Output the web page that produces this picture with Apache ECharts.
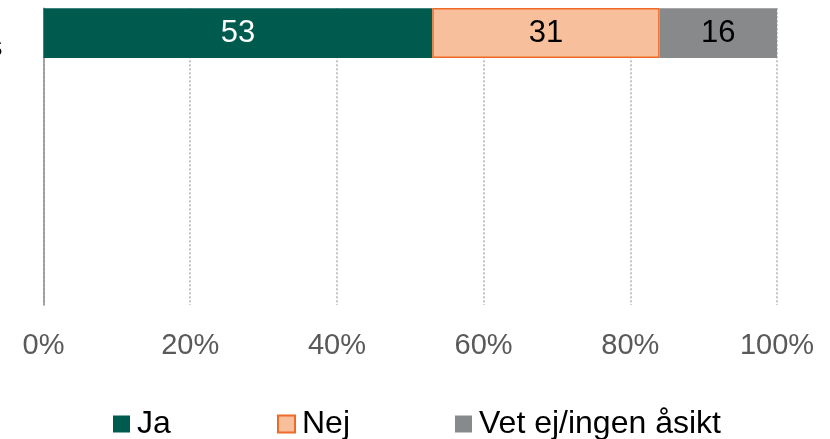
<!DOCTYPE html>
<html>
<head>
<meta charset="utf-8">
<script src="https://cdn.jsdelivr.net/npm/echarts@6/dist/echarts.min.js"></script>
<style>
  html, body { margin: 0; padding: 0; background: #fff; }
  #main { width: 830px; height: 439px; }
</style>
</head>
<body>
<div id="main"></div>
<script>
// kategorier (bara första raden syns i bilden)
const categories = ['Samtliga kommuners', '', '', '', '', ''];
const seriesNames = ['Ja', 'Nej', 'Vet ej/ingen åsikt'];
const ja = [53];
const nej = [31];
const vetEj = [16];
const tickLabels = ['0%', '20%', '40%', '60%', '80%', '100%'];

const font = "'Liberation Sans', Arial, sans-serif";
const chart = echarts.init(document.getElementById('main'), null, { renderer: 'canvas' });

function barSeries(name, data, color, labelColor, border) {
  return {
    name: name,
    type: 'bar',
    stack: 'total',
    barWidth: 50,
    data: data,
    itemStyle: {
      color: color,
      borderColor: border || color,
      borderWidth: border ? 1.5 : 0
    },
    label: {
      show: true,
      position: 'inside',
      color: labelColor,
      fontSize: 31,
      fontFamily: font
    },
    emphasis: { disabled: true }
  };
}

const legendLeft = [113, 277, 455];

const option = {
  animation: false,
  backgroundColor: '#fff',
  grid: { left: 43.5, right: 53, top: 8.3, bottom: 134, containLabel: false, outerBoundsMode: 'none' },
  xAxis: {
    type: 'value',
    min: 0,
    max: 100,
    interval: 20,
    axisLine: { show: false },
    axisTick: { show: false },
    splitLine: { show: true, lineStyle: { color: '#B0B0B0', type: [2, 2], width: 1.5 } },
    axisLabel: {
      margin: 26,
      fontSize: 29,
      fontFamily: font,
      color: '#595959',
      formatter: function (v) { return tickLabels[v / 20]; }
    }
  },
  yAxis: {
    type: 'category',
    inverse: true,
    data: categories,
    axisLine: { show: true, lineStyle: { color: '#8C8C8C', width: 1.5 } },
    axisTick: { show: false },
    axisLabel: { margin: 41, fontSize: 30, fontFamily: font, color: '#000', verticalAlign: 'top' }
  },
  legend: seriesNames.map(function (n, i) {
    return {
      data: [n],
      left: legendLeft[i],
      top: 408,
      padding: 0,
      itemWidth: 17,
      itemHeight: 17,
      icon: 'rect',
      textStyle: { fontSize: 32, fontFamily: font, color: '#000', padding: [0, 0, 0, 2] }
    };
  }),
  series: [
    barSeries(seriesNames[0], ja, '#005B4F', '#fff'),
    barSeries(seriesNames[1], nej, '#F8BF9C', '#000', '#EE6A25'),
    barSeries(seriesNames[2], vetEj, '#87898B', '#000')
  ]
};

chart.setOption(option);
</script>
</body>
</html>
